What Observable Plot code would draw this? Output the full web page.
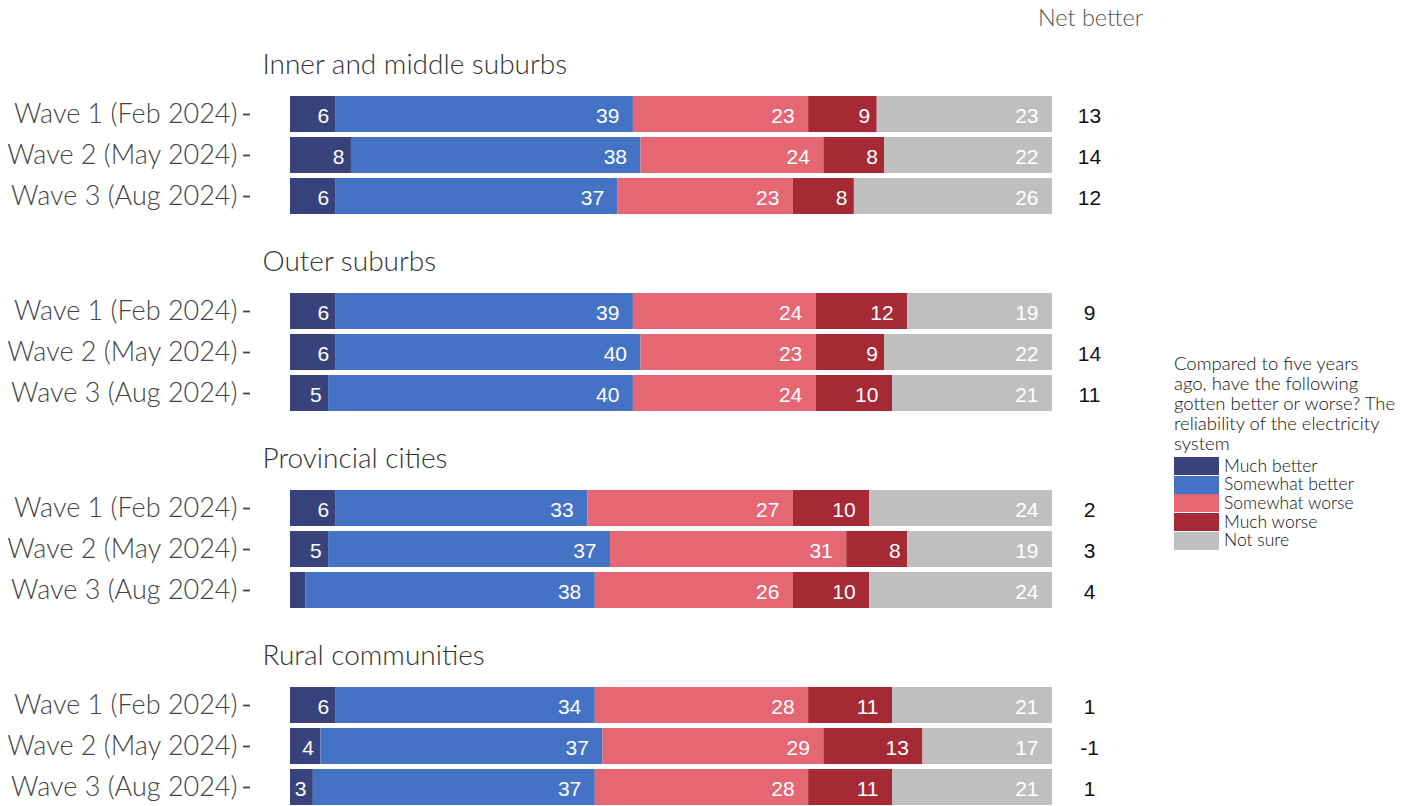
<!DOCTYPE html>
<html>
<head>
<meta charset="utf-8">
<script src="https://cdn.jsdelivr.net/npm/d3@7"></script>
<script src="https://cdn.jsdelivr.net/npm/@observablehq/plot@0.6"></script>
<style>
  html, body { margin: 0; padding: 0; background: #fff; }
  #wrap { position: relative; width: 1414px; height: 806px; overflow: hidden; }
  #legend { position: absolute; left: 1174px; top: 353px; font-family: Lato, sans-serif; font-weight: 300; color: #111; }
  #legend .title { font-size: 18.5px; line-height: 20px; white-space: nowrap; margin-bottom: 3.5px; }
  #legend .item { display: flex; align-items: center; height: 18.7px; }
  #legend .sw { width: 45px; height: 18px; margin-right: 5px; }
  #legend .lab { font-size: 17.5px; line-height: 18.7px; white-space: nowrap; }
</style>
</head>
<body>
<div id="wrap"><div id="chart"></div><div id="legend"></div></div>
<script>
const groups = ["Inner and middle suburbs", "Outer suburbs", "Provincial cities", "Rural communities"];
const waves = ["Wave 1 (Feb 2024)", "Wave 2 (May 2024)", "Wave 3 (Aug 2024)"];
const categories = ["Much better", "Somewhat better", "Somewhat worse", "Much worse", "Not sure"];
const colors = ["#39437b", "#4472c4", "#e56773", "#a52a35", "#bfbfbf"];
const legendTitle = ["Compared to five years", "ago, have the following", "gotten better or worse? The", "reliability of the electricity", "system"];

// values in order: group x wave
const muchBetter     = [6, 8, 6,   6, 6, 5,   6, 5, 2,   6, 4, 3];
const somewhatBetter = [39, 38, 37, 39, 40, 40, 33, 37, 38, 34, 37, 37];
const somewhatWorse  = [23, 24, 23, 24, 23, 24, 27, 31, 26, 28, 29, 28];
const muchWorse      = [9, 8, 8,   12, 9, 10, 10, 8, 10, 11, 13, 11];
const notSure        = [23, 22, 26, 19, 22, 21, 24, 19, 24, 21, 17, 21];
const netBetter      = [13, 14, 12, 9, 14, 11, 2, 3, 4, 1, -1, 1];

const series = [muchBetter, somewhatBetter, somewhatWorse, muchWorse, notSure];

const rows = [];
const netRows = [];
groups.forEach((g, gi) => {
  waves.forEach((w, wi) => {
    const i = gi * 3 + wi;
    categories.forEach((c, ci) => {
      rows.push({group: g, wave: w, category: c, value: series[ci][i]});
    });
    netRows.push({group: g, wave: w, net: netBetter[i]});
  });
});

const oneDigit = d => (d.value >= 3 && d.value < 10) ? String(d.value) : "";
const twoDigit = d => (d.value >= 10) ? String(d.value) : "";
const numFont = "Liberation Sans, Arial, sans-serif";

const chart = Plot.plot({
  width: 1414,
  height: 806,
  marginTop: 96,
  marginBottom: 0,
  marginLeft: 250,
  marginRight: 362,
  style: {fontFamily: "Lato, sans-serif", fontWeight: 300, background: "#fff"},
  x: {domain: [0, 100], insetLeft: 40, axis: null},
  y: {domain: waves, paddingInner: 0.112, paddingOuter: 0, label: null},
  fy: {domain: groups, paddingInner: 0.396, paddingOuter: 0, axis: null, label: null},
  color: {domain: categories, range: colors},
  marks: [
    Plot.barX(rows, Plot.stackX({x: "value", y: "wave", fy: "group", fill: "category", insetTop: 0, insetBottom: 0})),
    Plot.text(rows, Plot.stackX2({x: "value", y: "wave", fy: "group", z: "category", text: oneDigit,
      textAnchor: "end", dx: -7, dy: 2, fill: "white", fontSize: 21, fontWeight: 400, fontFamily: numFont})),
    Plot.text(rows, Plot.stackX2({x: "value", y: "wave", fy: "group", z: "category", text: twoDigit,
      textAnchor: "end", dx: -14, dy: 2, fill: "white", fontSize: 21, fontWeight: 400, fontFamily: numFont})),
    Plot.text(netRows, {y: "wave", fy: "group", text: d => String(d.net), frameAnchor: "right", dx: 37, dy: 2,
      textAnchor: "middle", fill: "#111", fontSize: 21, fontWeight: 400, fontFamily: numFont}),
    Plot.axisY({tickSize: 7, tickPadding: 6, fontSize: 27, color: "#444", strokeWidth: 1.8, label: null}),
    Plot.text(groups, {fy: d => d, text: d => d, frameAnchor: "top-left", dx: 12, dy: -31,
      lineAnchor: "middle", textAnchor: "start", fontSize: 28, fill: "#333"}),
    Plot.text([groups[0]], {fy: d => d, text: () => "Net better", frameAnchor: "top-right", dx: 38, dy: -78,
      lineAnchor: "middle", textAnchor: "middle", fontSize: 23.5, fill: "#555"})
  ]
});
document.getElementById("chart").appendChild(chart);

const legend = document.getElementById("legend");
const t = document.createElement("div");
t.className = "title";
t.innerHTML = legendTitle.join("<br>");
legend.appendChild(t);
categories.forEach((c, i) => {
  const it = document.createElement("div");
  it.className = "item";
  it.innerHTML = `<div class="sw" style="background:${colors[i]}"></div><div class="lab">${c}</div>`;
  legend.appendChild(it);
});
</script>
</body>
</html>
